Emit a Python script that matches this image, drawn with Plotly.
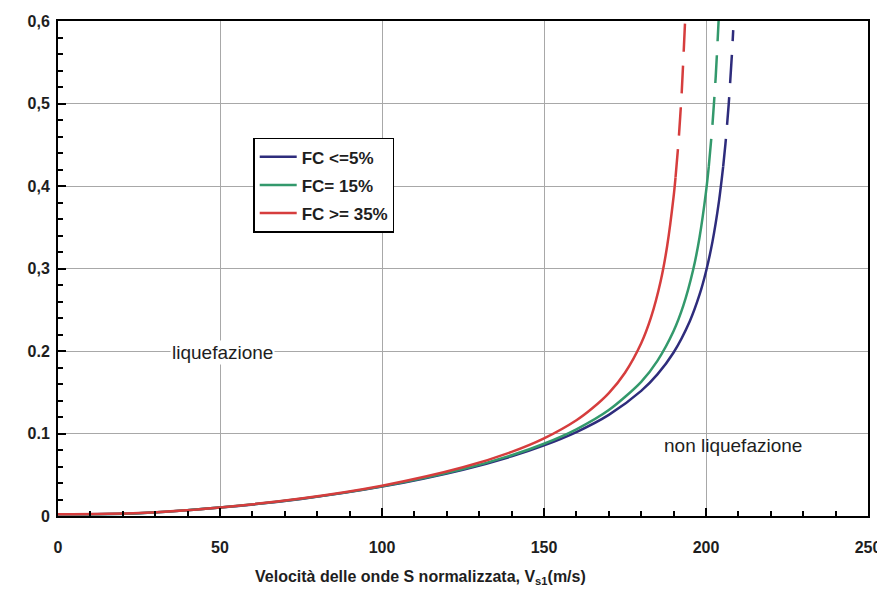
import plotly.graph_objects as go

# ---- data ----
series_names = ["FC <=5%", "FC= 15%", "FC >= 35%"]
series_colors = ["#2e2c7c", "#33996c", "#d63d3d"]

# solid parts (Vs1 [m/s], CRR)
vs_fc5 = [0, 25, 50, 75, 100, 125, 140, 150, 160, 170, 180, 185, 190, 195, 198, 200, 202, 204, 205.3]
crr_fc5 = [0.002, 0.0034, 0.0102, 0.0207, 0.0356, 0.0561, 0.0723, 0.0856, 0.1018, 0.1226, 0.1517,
           0.1717, 0.1982, 0.2361, 0.2682, 0.2964, 0.3326, 0.3814, 0.4235]

vs_fc15 = [0, 25, 50, 75, 100, 125, 140, 150, 160, 170, 180, 185, 190, 193, 196, 198, 200, 200.85]
crr_fc15 = [0.002, 0.0034, 0.0103, 0.0209, 0.0359, 0.0568, 0.0736, 0.0876, 0.1051, 0.1284, 0.1627,
            0.1881, 0.2242, 0.2549, 0.2978, 0.3376, 0.3928, 0.4232]

vs_fc35 = [0, 25, 50, 75, 100, 125, 140, 150, 160, 165, 170, 175, 180, 183, 186, 188, 190, 190.6]
crr_fc35 = [0.002, 0.0035, 0.0104, 0.0212, 0.0367, 0.059, 0.0777, 0.0941, 0.1161, 0.1309, 0.149, 0.1737,
            0.2094, 0.2404, 0.2846, 0.3269, 0.387, 0.4106]

# dashed (extrapolated) parts
vs_fc5_ext = [205.3, 206, 207, 208, 208.4]
crr_fc5_ext = [0.4235, 0.451, 0.4987, 0.5596, 0.589]
vs_fc15_ext = [200.85, 202, 203, 203.9]
crr_fc15_ext = [0.4232, 0.4746, 0.5326, 0.601]
vs_fc35_ext = [190.6, 191.5, 192.5, 193.55]
crr_fc35_ext = [0.4106, 0.4528, 0.513, 0.600]

x_ticks = [0, 50, 100, 150, 200, 250]
x_ticklabels = ["0", "50", "100", "150", "200", "250"]
y_ticks = [0, 0.1, 0.2, 0.3, 0.4, 0.5, 0.6]
y_ticklabels = ["0", "0.1", "0.2", "0,3", "0,4", "0,5", "0,6"]

x_title = "Velocità delle onde S normalizzata, V<sub>s1</sub>(m/s)"
label_liq = "liquefazione"
label_nonliq = "non liquefazione"

solid = [(vs_fc5, crr_fc5), (vs_fc15, crr_fc15), (vs_fc35, crr_fc35)]
dashed = [(vs_fc5_ext, crr_fc5_ext), (vs_fc15_ext, crr_fc15_ext), (vs_fc35_ext, crr_fc35_ext)]

fig = go.Figure()
for i, name in enumerate(series_names):
    xs, ys = solid[i]
    fig.add_trace(go.Scatter(
        x=xs, y=ys, mode="lines", name=name, legendgroup=name,
        line=dict(color=series_colors[i], width=2.5, shape="spline", smoothing=0.8),
    ))
    xd, yd = dashed[i]
    fig.add_trace(go.Scatter(
        x=xd, y=yd, mode="lines", name=name, legendgroup=name, showlegend=False,
        line=dict(color=series_colors[i], width=2.5, dash="28px,14px", shape="spline", smoothing=0.6),
    ))

font_family = "Liberation Sans, Arial, sans-serif"
txt_col = "#1e1e1e"

fig.update_layout(
    width=877, height=591,
    margin=dict(l=50, r=17, t=13, b=83),
    paper_bgcolor="white", plot_bgcolor="white",
    font=dict(family=font_family, size=14, color=txt_col),
    showlegend=True,
    legend=dict(
        x=0.241, y=0.764, xanchor="left", yanchor="top",
        bgcolor="white", bordercolor="black", borderwidth=1.5,
        font=dict(family=font_family, size=17, color=txt_col, weight="bold"),
        tracegroupgap=3, itemwidth=37,
    ),
    xaxis=dict(
        range=[0, 250], tickvals=x_ticks, ticktext=x_ticklabels,
        showgrid=True, gridcolor="#a8a8a8", gridwidth=1,
        showline=True, linecolor="black", linewidth=2, mirror=True,
        ticks="inside", ticklen=8, tickwidth=2, tickcolor="black",
        minor=dict(dtick=10, ticks="inside", ticklen=5, tickwidth=2, tickcolor="black", showgrid=False),
        tickfont=dict(family=font_family, size=16, color=txt_col, weight="bold"),
        ticklabelstandoff=16, zeroline=False, automargin=False,
    ),
    yaxis=dict(
        range=[0, 0.6], tickvals=y_ticks, ticktext=y_ticklabels,
        showgrid=True, gridcolor="#a8a8a8", gridwidth=1,
        showline=True, linecolor="black", linewidth=2, mirror=True,
        ticks="inside", ticklen=8, tickwidth=2, tickcolor="black",
        minor=dict(dtick=0.02, ticks="inside", ticklen=5, tickwidth=2, tickcolor="black", showgrid=False),
        tickfont=dict(family=font_family, size=16, color=txt_col, weight="bold"),
        ticklabelstandoff=3, zeroline=False, automargin=False,
    ),
    annotations=[
        dict(x=50.9, y=0.198, xref="x", yref="y", text=label_liq, showarrow=False,
             font=dict(family=font_family, size=19, color=txt_col), bgcolor="white"),
        dict(x=208.3, y=0.085, xref="x", yref="y", text=label_nonliq, showarrow=False,
             font=dict(family=font_family, size=19, color=txt_col)),
        dict(x=0.448, y=-0.125, xref="paper", yref="paper", xanchor="center", yanchor="middle",
             text=x_title, showarrow=False,
             font=dict(family=font_family, size=16, color=txt_col, weight="bold")),
    ],
)

fig.write_html("out.html")
